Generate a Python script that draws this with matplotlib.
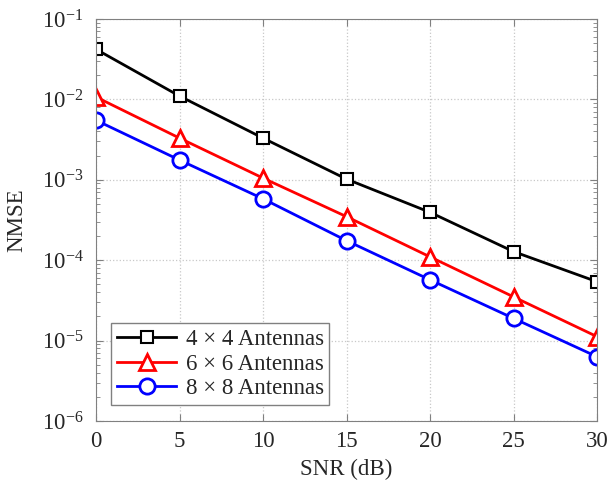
import numpy as np
import matplotlib
matplotlib.use("Agg")
import matplotlib.pyplot as plt
from matplotlib.ticker import LogLocator, NullFormatter

plt.rcParams['font.family'] = ['Liberation Serif', 'DejaVu Serif']
plt.rcParams['mathtext.fontset'] = 'custom'
plt.rcParams['mathtext.rm'] = 'Liberation Serif'
plt.rcParams['mathtext.it'] = 'Liberation Serif:italic'

snr = [0, 5, 10, 15, 20, 25, 30]
nmse_4x4 = [4.2e-2, 1.1e-2, 3.3e-3, 1.02e-3, 3.94e-4, 1.28e-4, 5.4e-5]
nmse_6x6 = [1.07e-2, 3.3e-3, 1.05e-3, 3.48e-4, 1.1e-4, 3.5e-5, 1.12e-5]
nmse_8x8 = [5.5e-3, 1.76e-3, 5.8e-4, 1.75e-4, 5.7e-5, 1.89e-5, 6.3e-6]
labels = ['4 × 4 Antennas', '6 × 6 Antennas', '8 × 8 Antennas']

fig = plt.figure(figsize=(6.1, 4.83), dpi=100)
ax = fig.add_axes([0.1574, 0.1284, 0.8213, 0.8323])

ax.semilogy(snr, nmse_4x4, '-s', color='black', lw=2, ms=8.5, mfc='white', mew=1.5, label=labels[0])
ax.semilogy(snr, nmse_6x6, '-^', color='red', lw=2, ms=12, mfc='white', mew=2, label=labels[1])
ax.semilogy(snr, nmse_8x8, '-o', color='blue', lw=2, ms=11, mfc='white', mew=2, label=labels[2])

ax.set_xlim(0, 30)
ax.set_ylim(1e-6, 1e-1)
ax.set_xticks(snr)
ax.yaxis.set_major_locator(LogLocator(base=10, numticks=10))
ax.yaxis.set_minor_locator(LogLocator(base=10, subs=np.arange(2, 10), numticks=10))
ax.yaxis.set_minor_formatter(NullFormatter())

ax.grid(True, which='major', linestyle=':', color='#c8c8c8', lw=0.9)
ax.tick_params(which='both', direction='in', top=True, right=True, colors='#808080',
               labelcolor='#262626', labelsize=16.5)
ax.tick_params(which='major', length=5)
ax.tick_params(which='minor', length=3)
ax.tick_params(axis='x', pad=7)
ax.tick_params(axis='y', pad=9)
for s in ax.spines.values():
    s.set_color('#808080')

ax.set_xlabel('SNR (dB)', fontsize=16.5, color='#262626', labelpad=5)
ax.set_ylabel('NMSE', fontsize=16.5, color='#262626', labelpad=10)

leg = ax.legend(loc='lower left', bbox_to_anchor=(0.03, 0.04), fontsize=16.5, fancybox=False,
                edgecolor='#808080', framealpha=1, handlelength=2.6, borderpad=0.25,
                labelspacing=0.15, handletextpad=0.4, borderaxespad=0)
leg.get_frame().set_linewidth(1)
for t in leg.get_texts():
    t.set_color('#262626')

fig.savefig('out.png', dpi=100)
